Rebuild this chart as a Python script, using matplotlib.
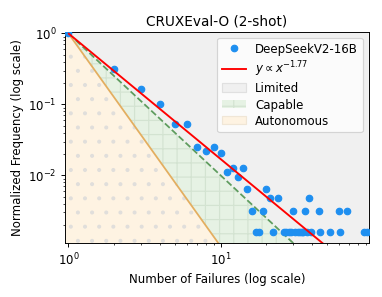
import matplotlib
matplotlib.use("Agg")
import matplotlib.pyplot as plt
import numpy as np
from matplotlib.patches import Patch
from matplotlib.lines import Line2D

# failures (x) and how many problems had that many failures
failures = [1, 2, 3, 4, 5, 6, 7, 8, 9, 10, 11, 12, 13, 14, 15, 16, 17, 18, 19, 20,
            21, 22, 24, 26, 27, 28, 29, 30, 31, 32, 33, 34, 35, 36, 37, 38, 39,
            44, 45, 52, 60, 61, 68, 88, 91]
counts = [630, 200, 105, 63, 33, 33, 16, 14, 16, 13, 7, 8, 6, 8, 4, 2, 1, 1, 2, 4,
          3, 1, 3, 1, 1, 1, 1, 2, 1, 1, 1, 1, 1, 2, 1, 3, 1,
          2, 1, 1, 2, 1, 2, 1, 1]
alpha_fit = 1.77

x = np.array(failures, dtype=float)
y = np.array(counts, dtype=float) / counts[0]

xmin, xmax = 0.95, 94
ymin, ymax = 0.00113, 1.05

fig = plt.figure(figsize=(4.5, 3.5), dpi=85)
ax = fig.add_subplot(111)
fig.subplots_adjust(left=0.170, right=0.964, top=0.891, bottom=0.183)

xs = np.logspace(np.log10(xmin), np.log10(xmax), 400)
ax.fill_between(xs, xs**-2.0, 10, facecolor='#f0f0f0', edgecolor='none', zorder=0)
ax.fill_between(xs, xs**-3.0, xs**-2.0, facecolor='#e6f2e4', edgecolor='#d3e3d1',
                hatch='+', linewidth=0, zorder=0)
ax.fill_between(xs, 1e-5, xs**-3.0, facecolor='#fef3e2', edgecolor='#e0dedb',
                hatch='.', linewidth=0, zorder=0)

xl = xs[xs >= 1]
ax.plot(xl, xl**-2.0, color='#5e9c5e', lw=1.5, ls='--', zorder=1)
ax.plot(xl, xl**-3.0, color='#e3ae60', lw=1.5, zorder=1)

ax.scatter(x, y, s=30, color='#1e8ff0', zorder=3)
ax.plot(xl, xl**-alpha_fit, color='red', lw=1.6, zorder=4)

ax.set_xscale('log')
ax.set_yscale('log')
ax.set_xlim(xmin, xmax)
ax.set_ylim(ymin, ymax)

ax.set_title('CRUXEval-O (2-shot)', fontsize=11.5)
ax.set_xlabel('Number of Failures (log scale)', fontsize=10)
ax.set_ylabel('Normalized Frequency (log scale)', fontsize=10)

handles = [
    Line2D([], [], marker='o', ls='none', color='#1e8ff0', markersize=5.5),
    Line2D([], [], color='red', lw=1.6),
    Patch(facecolor='#f0f0f0', edgecolor='#e0e0e0'),
    Patch(facecolor='#e6f2e4', edgecolor='#d3e3d1', hatch='+', linewidth=0),
    Patch(facecolor='#fef3e2', edgecolor='#f0e6d6'),
]
labels = ['DeepSeekV2-16B', r'$y \propto x^{-%.2f}$' % alpha_fit,
          'Limited', 'Capable', 'Autonomous']
ax.legend(handles, labels, loc='upper right', fontsize=10, labelspacing=0.28)

fig.savefig('out.png', dpi=85)
